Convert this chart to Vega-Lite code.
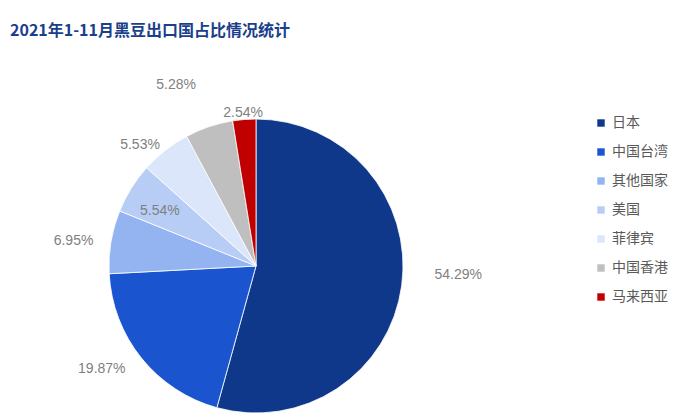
{
  "$schema": "https://vega.github.io/schema/vega-lite/v6.json",
  "width": 512,
  "height": 300,
  "padding": {"left": 0, "top": 22, "right": 0, "bottom": 0},
  "title": {
    "text": "2021年1-11月黑豆出口国占比情况统计",
    "anchor": "start",
    "dx": 10,
    "offset": 3,
    "fontSize": 16,
    "fontWeight": "bold",
    "color": "#1A3F8C",
    "font": "Noto Sans CJK SC"
  },
  "data": {
    "values": [
      {"country": "日本", "share": 0.5429},
      {"country": "中国台湾", "share": 0.1987},
      {"country": "其他国家", "share": 0.0695},
      {"country": "美国", "share": 0.0554},
      {"country": "菲律宾", "share": 0.0553},
      {"country": "中国香港", "share": 0.0528},
      {"country": "马来西亚", "share": 0.0254}
    ]
  },
  "encoding": {
    "theta": {"field": "share", "type": "quantitative", "stack": true},
    "order": {"field": "share", "sort": "descending"},
    "detail": {"field": "country", "type": "nominal"}
  },
  "layer": [
    {
      "mark": {"type": "arc", "outerRadius": 147, "stroke": "#ffffff", "strokeWidth": 0.8},
      "encoding": {
        "color": {
          "field": "country",
          "type": "nominal",
          "sort": null,
          "scale": {
            "domain": ["日本", "中国台湾", "其他国家", "美国", "菲律宾", "中国香港", "马来西亚"],
            "range": ["#10388A", "#1A55CF", "#93B4F0", "#B8CDF6", "#DCE6FA", "#BFBFBF", "#C00000"]
          },
          "legend": {
            "title": null,
            "orient": "right",
            "offset": 82,
            "symbolType": "square",
            "symbolSize": 55,
            "symbolStrokeWidth": 0,
            "labelFontSize": 14,
            "labelFont": "Noto Sans CJK SC",
            "labelColor": "#595959",
            "rowPadding": 15
          }
        }
      }
    },
    {
      "mark": {"type": "text", "radius": 200, "dx": 4, "dy": -18, "fontSize": 14, "font": "Liberation Sans", "fill": "#7F7F7F"},
      "encoding": {
        "text": {"condition": {"test": "datum.country == '日本'", "field": "share", "type": "quantitative", "format": ".2%"}, "value": ""}
      }
    },
    {
      "mark": {"type": "text", "radius": 185, "dx": -10, "dy": -13, "fontSize": 14, "font": "Liberation Sans", "fill": "#7F7F7F"},
      "encoding": {
        "text": {"condition": {"test": "datum.country == '中国台湾'", "field": "share", "type": "quantitative", "format": ".2%"}, "value": ""}
      }
    },
    {
      "mark": {"type": "text", "radius": 185, "dy": 5, "fontSize": 14, "font": "Liberation Sans", "fill": "#7F7F7F"},
      "encoding": {
        "text": {"condition": {"test": "datum.country == '其他国家'", "field": "share", "type": "quantitative", "format": ".2%"}, "value": ""}
      }
    },
    {
      "mark": {"type": "text", "radius": 111, "dx": -2, "dy": 4, "fontSize": 14, "font": "Liberation Sans", "fill": "#7F7F7F"},
      "encoding": {
        "text": {"condition": {"test": "datum.country == '美国'", "field": "share", "type": "quantitative", "format": ".2%"}, "value": ""}
      }
    },
    {
      "mark": {"type": "text", "radius": 162, "dx": -16, "dy": 6, "fontSize": 14, "font": "Liberation Sans", "fill": "#7F7F7F"},
      "encoding": {
        "text": {"condition": {"test": "datum.country == '菲律宾'", "field": "share", "type": "quantitative", "format": ".2%"}, "value": ""}
      }
    },
    {
      "mark": {"type": "text", "radius": 200, "dx": -16, "dy": 9, "fontSize": 14, "font": "Liberation Sans", "fill": "#7F7F7F"},
      "encoding": {
        "text": {"condition": {"test": "datum.country == '中国香港'", "field": "share", "type": "quantitative", "format": ".2%"}, "value": ""}
      }
    },
    {
      "mark": {"type": "text", "radius": 162, "dy": 8, "fontSize": 14, "font": "Liberation Sans", "fill": "#7F7F7F"},
      "encoding": {
        "text": {"condition": {"test": "datum.country == '马来西亚'", "field": "share", "type": "quantitative", "format": ".2%"}, "value": ""}
      }
    }
  ],
  "config": {"view": {"stroke": null}}
}
